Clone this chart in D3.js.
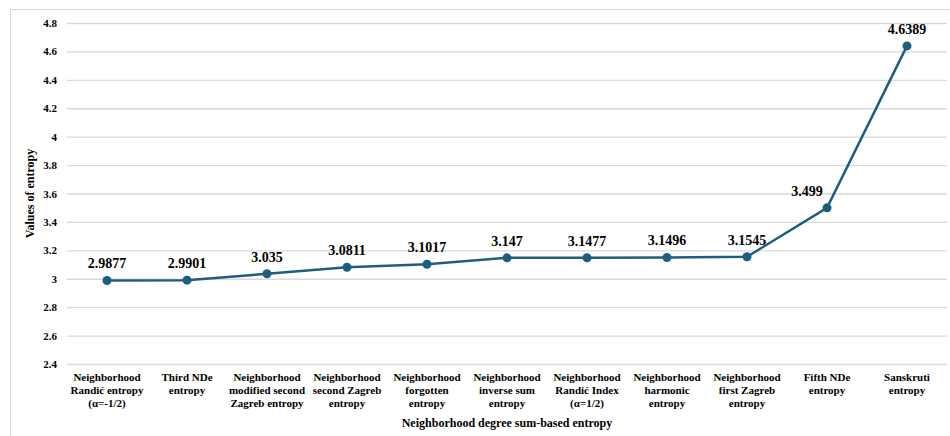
<!DOCTYPE html>
<html>
<head>
<meta charset="utf-8">
<script src="https://cdn.jsdelivr.net/npm/d3@7"></script>
<style>
  body { margin: 0; background: #fff; }
</style>
</head>
<body>
<div id="chart"></div>
<script>
// category labels, split into lines as in the picture
var categories = [
  ["Neighborhood", "Randić entropy", "(α=-1/2)"],
  ["Third NDe", "entropy"],
  ["Neighborhood", "modified second", "Zagreb entropy"],
  ["Neighborhood", "second Zagreb", "entropy"],
  ["Neighborhood", "forgotten", "entropy"],
  ["Neighborhood", "inverse sum", "entropy"],
  ["Neighborhood", "Randić Index", "(α=1/2)"],
  ["Neighborhood", "harmonic", "entropy"],
  ["Neighborhood", "first Zagreb", "entropy"],
  ["Fifth NDe", "entropy"],
  ["Sanskruti", "entropy"]
];
var values = [2.9877, 2.9901, 3.035, 3.0811, 3.1017, 3.147, 3.1477, 3.1496, 3.1545, 3.499, 4.6389];
var valueLabels = ["2.9877", "2.9901", "3.035", "3.0811", "3.1017", "3.147", "3.1477", "3.1496", "3.1545", "3.499", "4.6389"];
var yTicks = [2.4, 2.6, 2.8, 3, 3.2, 3.4, 3.6, 3.8, 4, 4.2, 4.4, 4.6, 4.8];

var FONT = '"Liberation Serif"';

var svgWidth = 950, svgHeight = 436;
var margin = {top: 23, right: 3, bottom: 72, left: 67};
var width = svgWidth - margin.left - margin.right;
var height = svgHeight - margin.top - margin.bottom;

var svg = d3.select("#chart").append("svg")
  .attr("width", svgWidth)
  .attr("height", svgHeight)
  .style("font-family", FONT);

// chart area border
svg.append("rect")
  .attr("x", 10.5).attr("y", 9.5)
  .attr("width", 960).attr("height", 460)
  .attr("fill", "none")
  .attr("stroke", "#d9d9d9");

var chartGroup = svg.append("g")
  .attr("transform", `translate(${margin.left}, ${margin.top})`);

var idx = d3.range(categories.length);
var xScale = d3.scaleBand().domain(idx).range([0, width]);
var yScale = d3.scaleLinear().domain([2.4, 4.8]).range([height, 0]);

// gridlines + tick labels
var leftAxis = d3.axisLeft(yScale)
  .tickValues(yTicks)
  .tickSize(-width)
  .tickPadding(10)
  .tickFormat(d => d3.format("~g")(d));

var yAxis = chartGroup.append("g").call(leftAxis);
yAxis.select(".domain").remove();
yAxis.selectAll("line").attr("stroke", "#d9d9d9").attr("stroke-width", 1.3);
yAxis.selectAll("text")
  .style("font-family", FONT)
  .style("font-weight", "bold")
  .style("font-size", "11px")
  .attr("fill", "#000");

// x labels
var xAxis = chartGroup.append("g")
  .attr("transform", `translate(0, ${height})`);
xAxis.selectAll("text.cat")
  .data(idx)
  .enter()
  .append("text")
  .attr("class", "cat")
  .attr("x", d => xScale(d) + xScale.bandwidth() / 2)
  .attr("y", 17)
  .attr("text-anchor", "middle")
  .style("font-family", FONT)
  .style("font-weight", "bold")
  .style("font-size", "11px")
  .each(function(d) {
    var t = d3.select(this);
    categories[d].forEach(function(line, i) {
      t.append("tspan")
        .attr("x", xScale(d) + xScale.bandwidth() / 2)
        .attr("dy", i === 0 ? 0 : 13)
        .text(line);
    });
  });

var cx = d => xScale(d) + xScale.bandwidth() / 2;

// line
var line = d3.line()
  .x(d => cx(d))
  .y(d => yScale(values[d]));

chartGroup.append("path")
  .datum(idx)
  .attr("d", line)
  .attr("fill", "none")
  .attr("stroke", "#1d5e7e")
  .attr("stroke-width", 2.5);

chartGroup.selectAll("circle")
  .data(idx)
  .enter()
  .append("circle")
  .attr("cx", d => cx(d))
  .attr("cy", d => yScale(values[d]))
  .attr("r", 4.5)
  .attr("fill", "#1d5e7e");

// value labels
chartGroup.selectAll("text.val")
  .data(idx)
  .enter()
  .append("text")
  .attr("class", "val")
  .attr("x", d => cx(d) + (d === 9 ? -20 : 0))
  .attr("y", d => yScale(values[d]) - 12)
  .attr("text-anchor", "middle")
  .style("font-family", FONT)
  .style("font-weight", "bold")
  .style("font-size", "14px")
  .text(d => valueLabels[d]);

// axis titles
svg.append("text")
  .attr("x", margin.left + width / 2)
  .attr("y", 427)
  .attr("text-anchor", "middle")
  .style("font-family", FONT)
  .style("font-weight", "bold")
  .style("font-size", "12px")
  .text("Neighborhood degree sum-based entropy");

svg.append("text")
  .attr("transform", `translate(34, ${margin.top + height / 2}) rotate(-90)`)
  .attr("text-anchor", "middle")
  .style("font-family", FONT)
  .style("font-weight", "bold")
  .style("font-size", "12px")
  .text("Values of entropy");
</script>
</body>
</html>
